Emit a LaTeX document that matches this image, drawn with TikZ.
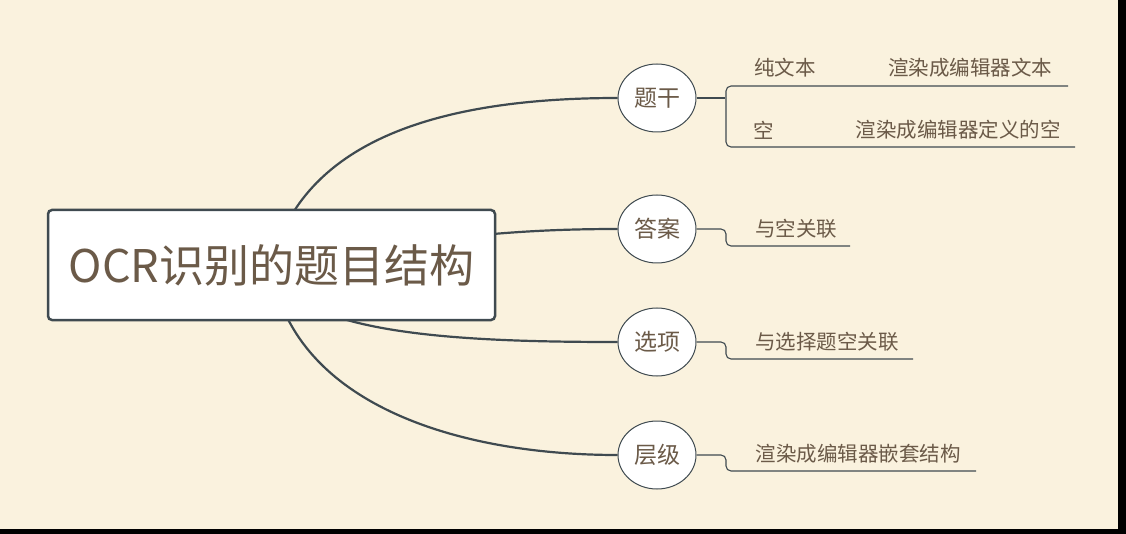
\documentclass[tikz,border=0pt]{standalone}
\usepackage{fontspec}
\usetikzlibrary{shapes.geometric}
\setmainfont{Noto Sans CJK SC}
\definecolor{bg}{HTML}{FAF2DE}
\definecolor{ln}{HTML}{3F4A50}
\definecolor{tx}{HTML}{6B5A48}
\begin{document}
\begin{tikzpicture}[x=1pt,y=-1pt,
 conn/.style={draw=ln,line width=2.2pt},
 thin/.style={draw=ln,line width=1.1pt,rounded corners=5pt},
 sub/.style={ellipse,draw=ln,line width=1pt,fill=white,minimum width=78pt,minimum height=68pt,inner sep=0pt,text=tx,font=\fontsize{23}{23}\selectfont},
 lbl/.style={text=tx,font=\fontsize{20.5}{20.5}\selectfont,inner sep=0pt}]
\useasboundingbox (0,0) rectangle (1126,534);
\fill[bg] (0,0) rectangle (1126,534);
\fill[black] (1118,0) rectangle (1126,534);
\fill[black] (0,529) rectangle (1126,534);
\node[sub] (a) at (657,98) {题干};
\node[sub] (b) at (657,229) {答案};
\node[sub] (c) at (657,342) {选项};
\node[sub] (d) at (657,455) {层级};
\coordinate (r) at (271,265);
\draw[conn] (r) .. controls (300,150) and (420,98) .. (a.west);
\draw[conn] (r) .. controls (420,240) and (500,229) .. (b.west);
\draw[conn] (r) .. controls (290,335) and (460,342) .. (c.west);
\draw[conn] (r) .. controls (290,400) and (450,455) .. (d.west);
\node[draw=ln,line width=2.5pt,fill=white,rounded corners=4pt,minimum width=447pt,minimum height=110pt,text=tx,font=\fontsize{45}{45}\selectfont] (root) at (271.5,265) {OCR识别的题目结构};
\draw[thin] (a.east) -- (725,98);
\draw[thin] (1068,86) -- (726,86) -- (726,147) -- (1075,147);
\draw[thin] (b.east) -- (726,229) -- (726,246) -- (850,246);
\draw[thin] (c.east) -- (726,342) -- (726,359) -- (913,359);
\draw[thin] (d.east) -- (726,455) -- (726,471) -- (976,471);
\node[lbl] (t1) at (785,68) {纯文本};
\node[lbl] (t2) at (970,68) {渲染成编辑器文本};
\node[lbl] (t3) at (764,130) {空};
\node[lbl] (t4) at (958,130) {渲染成编辑器定义的空};
\node[lbl] (t5) at (796,229) {与空关联};
\node[lbl] (t6) at (827,342) {与选择题空关联};
\node[lbl] (t7) at (858,454) {渲染成编辑器嵌套结构};
\end{tikzpicture}
\end{document}
